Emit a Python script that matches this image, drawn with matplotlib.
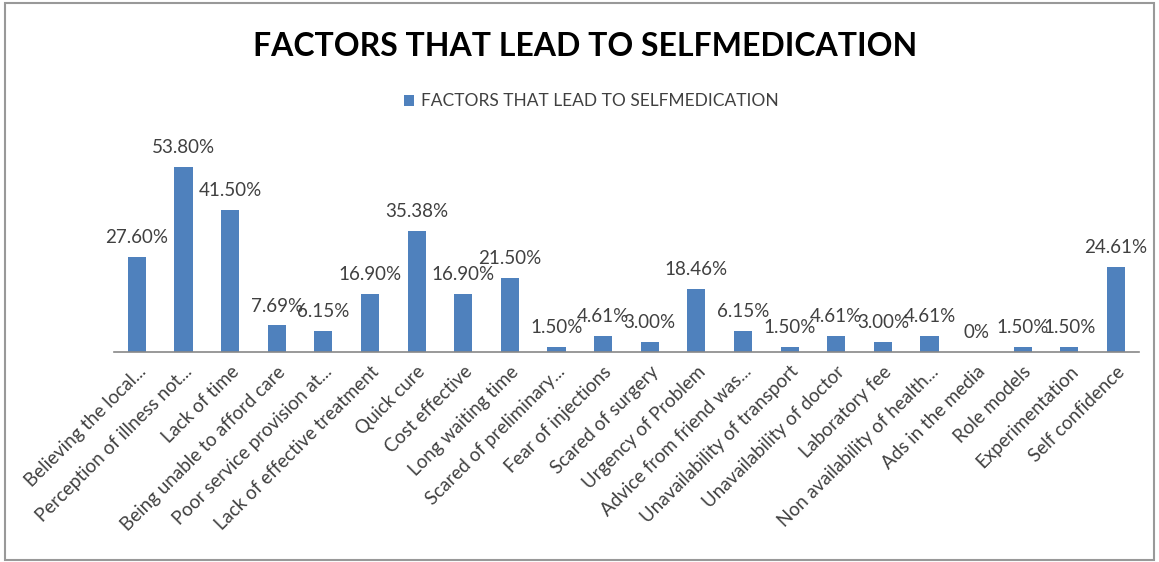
import matplotlib
matplotlib.use('Agg')
import matplotlib.pyplot as plt
from matplotlib.patches import Rectangle

plt.rcParams['font.family'] = ['Lato', 'DejaVu Sans']

# Chart data
factors = ['Believing the local...', 'Perception of illness not...', 'Lack of time',
           'Being unable to afford care', 'Poor service provision at...',
           'Lack of effective treatment', 'Quick cure', 'Cost effective',
           'Long waiting time', 'Scared of preliminary...', 'Fear of injections',
           'Scared of surgery', 'Urgency of Problem', 'Advice from friend was...',
           'Unavailability of transport', 'Unavailability of doctor', 'Laboratory fee',
           'Non availability of health...', 'Ads in the media', 'Role models',
           'Experimentation', 'Self confidence']
percent = [27.60, 53.80, 41.50, 7.69, 6.15, 16.90, 35.38, 16.90, 21.50, 1.50, 4.61,
           3.00, 18.46, 6.15, 1.50, 4.61, 3.00, 4.61, 0, 1.50, 1.50, 24.61]
labels = ['27.60%', '53.80%', '41.50%', '7.69%', '6.15%', '16.90%', '35.38%', '16.90%',
          '21.50%', '1.50%', '4.61%', '3.00%', '18.46%', '6.15%', '1.50%', '4.61%',
          '3.00%', '4.61%', '0%', '1.50%', '1.50%', '24.61%']
series_name = 'FACTORS THAT LEAD TO SELFMEDICATION'

bar_color = '#4F81BD'
text_color = '#404040'

fig = plt.figure(figsize=(11.59, 5.62), dpi=100)
ax = fig.add_axes([0.098, 0.374, 0.885, 0.366])

x = list(range(len(factors)))
bars = ax.bar(x, percent, width=0.39, color=bar_color, label=series_name)

# data labels above each bar
for b, lab in zip(bars, labels):
    ax.annotate(lab, (b.get_x() + b.get_width() / 2, b.get_height()),
                xytext=(0, 14), textcoords='offset points',
                ha='center', va='center', fontsize=13.5, color=text_color)

ax.set_xlim(-0.5, len(factors) - 0.5)
ax.set_ylim(0, 60)
ax.set_xticks(x)
ax.set_xticklabels(factors, rotation=45, ha='right', rotation_mode='anchor',
                   fontsize=13.5, color=text_color)
ax.tick_params(axis='x', length=0, pad=8)
ax.set_yticks([])
for s in ['top', 'right', 'left']:
    ax.spines[s].set_visible(False)
ax.spines['bottom'].set_color('#888888')
ax.spines['bottom'].set_linewidth(1.2)

fig.text(0.505, 0.918, series_name, ha='center', va='center',
         fontsize=23, fontweight='bold', color='black')

fig.legend(handles=[bars], labels=[series_name], loc='center',
           bbox_to_anchor=(0.51, 0.82), frameon=False, fontsize=12.5,
           handlelength=0.6, handleheight=0.6, handletextpad=0.4,
           labelcolor=text_color)

fig.patches.append(Rectangle((0.004, 0.004), 0.992, 0.99, transform=fig.transFigure,
                             fill=False, edgecolor='#999999', linewidth=1.5))

fig.savefig('out.png', dpi=100)
